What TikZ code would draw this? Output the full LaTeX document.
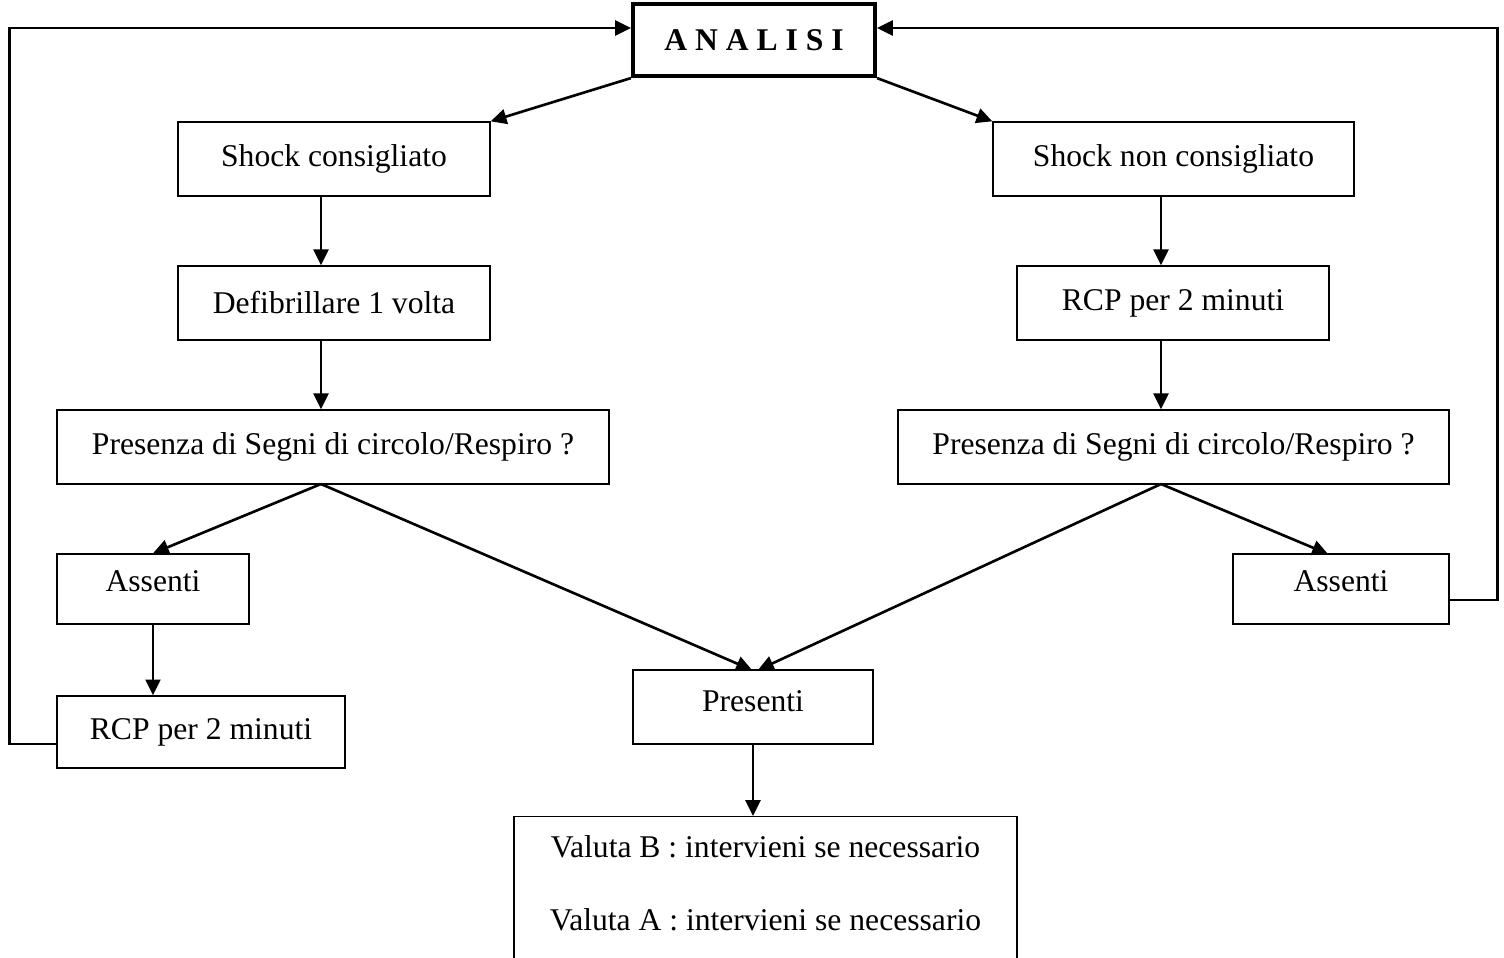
\documentclass[tikz,border=0pt]{standalone}
\usepackage{fontspec}
\setmainfont{Liberation Serif}
\usetikzlibrary{arrows.meta}

\begin{document}
\begin{tikzpicture}[x=0.02cm, y=-0.02cm,
    box/.style={draw, line width=0.8pt, minimum height=1.48cm, inner sep=0pt,
                font=\fontsize{18}{22}\selectfont},
    conn/.style={-{Triangle[length=9pt,width=8.5pt]}, line width=1.5pt}]
  \useasboundingbox (0,0) rectangle (1504,957);
  %\draw[very thin,gray,step=50] (0,0) grid (1504,957);
  \node[box, line width=2.4pt, minimum width=4.84cm, minimum height=1.44cm,
        font=\fontsize{18}{22}\selectfont\bfseries] (analisi) at (754,40) {A N A L I S I};
  \node[box, minimum width=6.24cm] (shockyes) at (334,159) {Shock consigliato};
  \node[box, minimum width=7.22cm] (shockno) at (1173.5,159) {Shock non consigliato};
  \node[box, minimum width=6.24cm] (defib) at (334,303) {Defibrillare 1 volta};
  \node[box, minimum width=6.24cm] (rcpright) at (1173,303) {RCP per 2 minuti};
  \node[box, minimum width=11.04cm] (segnileft) at (333,447) {Presenza di Segni di circolo/Respiro ?};
  \node[box, minimum width=11.02cm] (segniright) at (1173.5,447) {Presenza di Segni di circolo/Respiro ?};
  \node[box, minimum width=3.84cm, minimum height=1.40cm, text depth=0.3cm] (assentileft) at (153,589) {Assenti};
  \node[box, minimum width=4.32cm, minimum height=1.40cm, text depth=0.3cm] (assentiright) at (1341,589) {Assenti};
  \node[box, minimum width=4.8cm, text depth=0.25cm] (presenti) at (753,707) {Presenti};
  \node[box, minimum width=5.76cm, minimum height=1.44cm] (rcpleft) at (201,732) {RCP per 2 minuti};
  \node[box, minimum width=10.06cm, minimum height=3.6cm, anchor=north] (valuta) at (765.5,816) {};
  \node[font=\fontsize{18}{22}\selectfont] (valutab) at (765.5,847) {Valuta B : intervieni se necessario};
  \node[font=\fontsize{18}{22}\selectfont] (valutaa) at (765.5,920) {Valuta A : intervieni se necessario};

  \coordinate (sl) at (321,484);
  \coordinate (sr) at (1161,484);
  \coordinate (pl) at (752,670);
  \coordinate (pr) at (758,670);
  \coordinate (ar) at (1328,554);

  \draw[conn] (analisi.south west) -- (shockyes.north east);
  \draw[conn] (analisi.south east) -- (shockno.north west);
  \draw[conn] (shockyes.south -| sl) -- (defib.north -| sl);
  \draw[conn] (defib.south -| sl) -- (segnileft.north -| sl);
  \draw[conn] (shockno.south -| sr) -- (rcpright.north -| sr);
  \draw[conn] (rcpright.south -| sr) -- (segniright.north -| sr);
  \draw[conn] (sl) -- (assentileft.north);
  \draw[conn] (sl) -- (pl);
  \draw[conn] (sr) -- (pr);
  \draw[conn] (sr) -- (ar);
  \draw[conn] (assentileft.south) -- (rcpleft.north -| assentileft.south);
  \draw[conn] (presenti.south) -- (valuta.north -| presenti.south);
  \draw[conn] ([yshift=-0.24cm]rcpleft.west) -- ++(-47,0) |- ([yshift=0.24cm]analisi.west);
  \draw[conn] ([yshift=-0.22cm]assentiright.east) -- ++(48,0) |- ([yshift=0.24cm]analisi.east);
\end{tikzpicture}
\end{document}
